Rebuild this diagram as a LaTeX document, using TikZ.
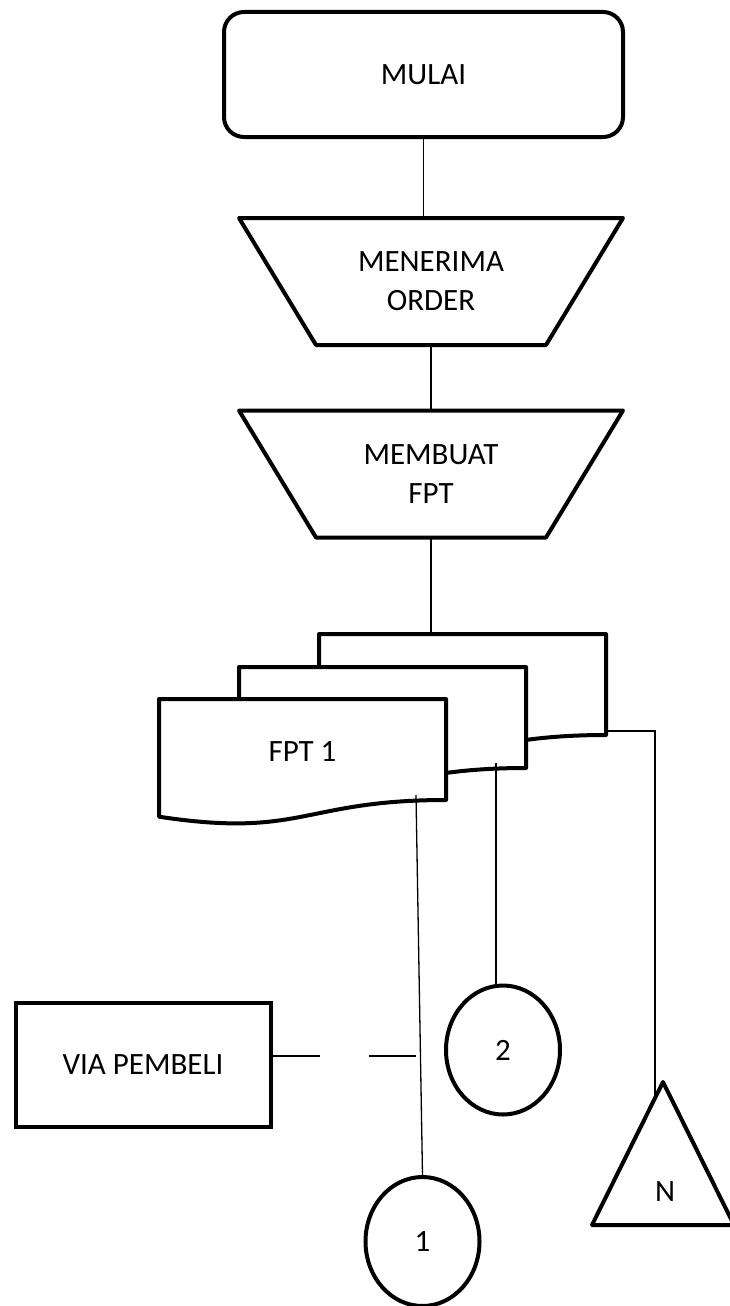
\documentclass[tikz,border=0pt]{standalone}
\usepackage{fontspec}
\setmainfont{Carlito}
\usetikzlibrary{calc,shapes.geometric}
\tikzset{x=1pt, y=-1pt,
    flow text/.style={font=\fontsize{31}{39}\selectfont, align=center},
    start box/.style={flow text, draw, line width=4pt, rounded corners=20pt,
          minimum width=399pt, minimum height=125pt, inner sep=0pt},
    manual op/.style={flow text, minimum width=230pt, minimum height=127pt,
          inner sep=0pt, outer sep=0pt},
    plain box/.style={flow text, draw, line width=4pt,
          minimum width=255pt, minimum height=124pt, inner sep=0pt},
    page ref/.style={flow text, draw, line width=4pt, ellipse,
          minimum width=114pt, minimum height=129pt, inner sep=0pt},
    doc frame/.style={draw, fill=white, line width=4pt, line join=round},
    op frame/.style={draw, line width=4pt, line join=round},
    flow line/.style={line width=1.3pt}
    }
\def\ManualOp#1#2#3{%
\node[manual op] (#1) at #2 {#3};
\path[op frame] ($(#1.north west)+(-77,0)$) -- ($(#1.north east)+(77,0)$)
   -- (#1.south east) -- (#1.south west) -- cycle;
}
\def\FlowDoc#1#2{%
\coordinate (#1) at #2;
\path[doc frame] (#1) -- ($(#1)+(287,0)$) -- ($(#1)+(287,101)$)
   .. controls ($(#1)+(143.5,101)$) and ($(#1)+(143.5,139.5)$) .. ($(#1)+(0,117.7)$) -- cycle;
\coordinate (#1 out) at ($(#1)+(257,96)$);
}
\begin{document}
\begin{tikzpicture}
\useasboundingbox (0,0) rectangle (730,1306);
\node[start box] (mulai) at (423.5,74.5) {MULAI};
\ManualOp{terima}{(431,281.5)}{MENERIMA\\ORDER}
\ManualOp{buat}{(431,474)}{MEMBUAT\\FPT}
% tumpukan dokumen
\FlowDoc{fpt3}{(319,634)}
\FlowDoc{fpt2}{(239,667)}
\FlowDoc{fpt1}{(159,699)}
\node[flow text] (fpt1 label) at ($(fpt1)+(143.5,53)$) {FPT 1};
\coordinate (fpt3 side) at ($(fpt3)+(287,97)$);
\node[plain box] (via) at (143,1065) {VIA PEMBELI};
\node[page ref] (c2) at (503,1050) {2};
\node[page ref] (c1) at (422.5,1241.5) {1};
\coordinate (tri top) at (663,1082);
\draw[doc frame] (tri top) -- ++(71,143) -- ++(-142,0) -- cycle;
\node[flow text] (arsip) at (665,1192) {N};
\coordinate (tri join) at (655,1097);
\coordinate (via join) at (417,1056);
\draw[flow line] (mulai.south) -- (mulai.south |- terima.north);
\draw[flow line] (terima.south) -- (buat.north);
\draw[flow line] (buat.south) -- (buat.south |- fpt3);
\draw[flow line] (fpt1 out) -- (c1.north);
\draw[flow line] (fpt2 out) -- (fpt2 out |- c2.north);
\draw[flow line] (fpt3 side) -| (tri join);
\draw[flow line, dash pattern=on 47pt off 49pt] ([yshift=9pt]via.east) -- (via join);
\end{tikzpicture}
\end{document}
